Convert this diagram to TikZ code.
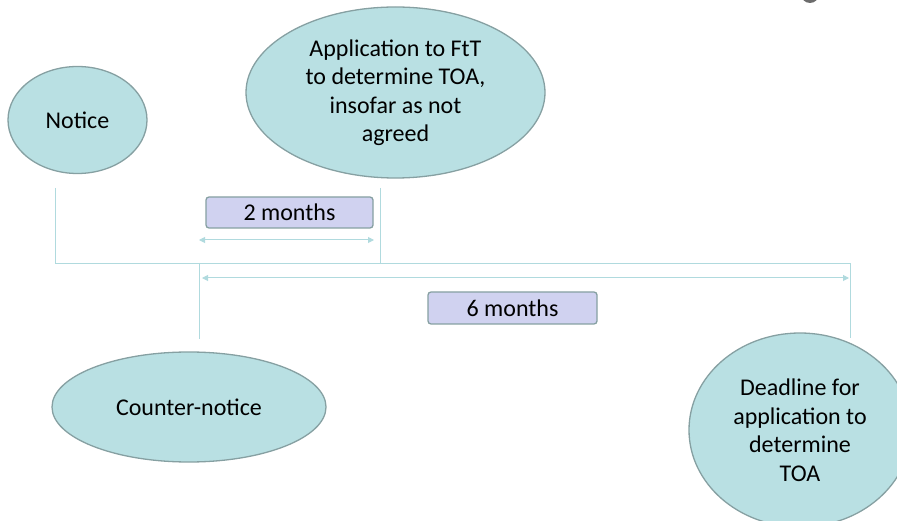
\documentclass[tikz,border=0pt]{standalone}
\usepackage{fontspec}
\setmainfont{Carlito}
\usetikzlibrary{shapes.geometric,arrows.meta}
\definecolor{ellfill}{HTML}{B9E0E3}
\definecolor{elldraw}{HTML}{86A0A2}
\definecolor{linec}{HTML}{B0DADE}
\definecolor{boxfill}{HTML}{D0D2F0}
\definecolor{boxdraw}{HTML}{86A0A2}
\tikzset{
  evt/.style={ellipse, fill=ellfill, draw=elldraw, line width=1.3pt, align=center, inner sep=0pt,
    font=\fontsize{24}{28.5}\selectfont},
  durbox/.style={rectangle, rounded corners=3pt, fill=boxfill, draw=boxdraw, line width=1.3pt,
    inner sep=0pt, font=\fontsize{24}{26}\selectfont},
  tline/.style={draw=linec, line width=0.8pt},
  span/.style={draw=linec, line width=1pt, {Triangle[length=6pt,width=6pt]}-{Triangle[length=6pt,width=6pt]}},
}
\begin{document}
\begin{tikzpicture}[x=1pt,y=-1pt]
\useasboundingbox (0,0) rectangle (897,521);
\clip (0,0) rectangle (897,521);
% small cut-off mark at the top edge
\fill[gray!85!black] (810,-6) ellipse (9 and 9);

\node[evt, minimum width=139pt, minimum height=107pt] (notice) at (77.5,120) {Notice};
\node[evt, minimum width=299pt, minimum height=171pt] (app) at (395.5,92.5)
  {Application to FtT\\to determine TOA,\\insofar as not\\agreed};
\node[evt, minimum width=274pt, minimum height=110pt] (counter) at (189,407) {Counter-notice};
\node[evt, minimum width=222pt, minimum height=194pt] (deadline) at (800,430)
  {Deadline for\\application to\\determine\\TOA};

\node[durbox, minimum width=167pt, minimum height=31pt] (two) at (289.5,212.5) {2 months};
\node[durbox, minimum width=169pt, minimum height=32pt] (six) at (512.5,308) {6 months};

\coordinate (nTop) at (55,188);
\coordinate (nBot) at (55,263);
\coordinate (aTop) at (380,188);
\coordinate (aBot) at (380,263);
\coordinate (rTop) at (850,263);
\coordinate (rBot) at (850,338);
\coordinate (cTop) at (199,263);
\coordinate (cBot) at (199,339);

\draw[tline] (nTop) -- (nBot) -- (rTop) -- (rBot);
\draw[tline] (aTop) -- (aBot);
\draw[tline] (cTop) -- (cBot);

\coordinate (twoL) at (199,240);
\coordinate (twoR) at (374,240);
\coordinate (sixL) at (202,278);
\coordinate (sixR) at (849,278);
\draw[span] (twoL) -- (twoR);
\draw[span] (sixL) -- (sixR);
\end{tikzpicture}
\end{document}
